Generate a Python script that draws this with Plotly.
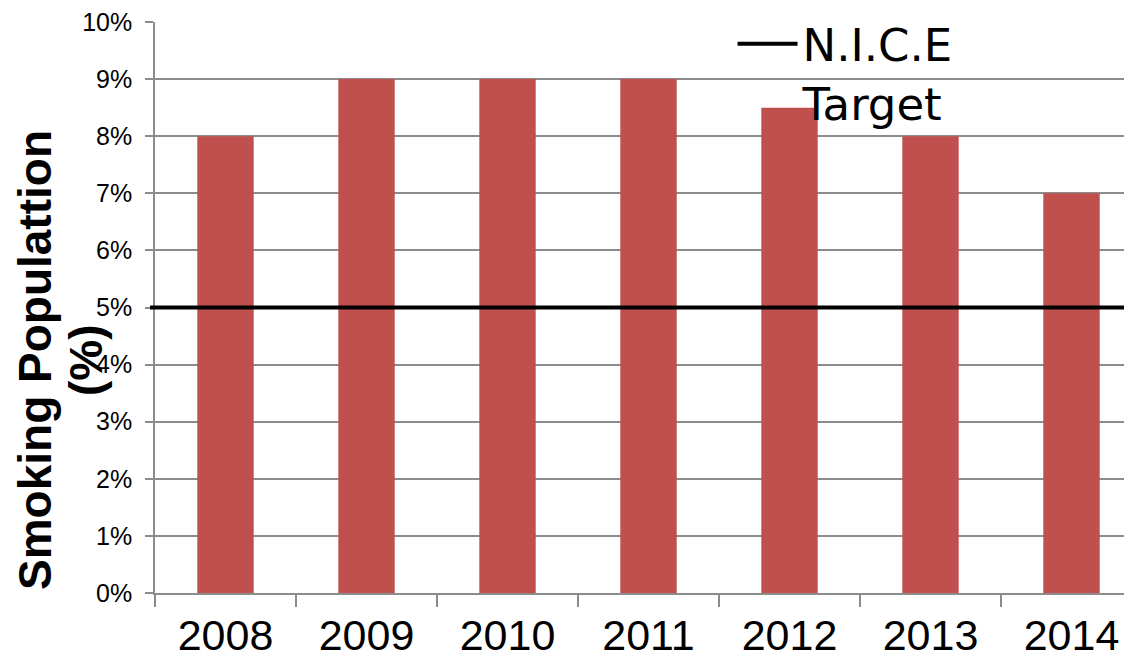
import plotly.graph_objects as go

years = ["2008", "2009", "2010", "2011", "2012", "2013", "2014"]
smoking_pct = [8, 9, 9, 9, 8.5, 8, 7]
nice_target = 5
y_ticks = list(range(0, 11))
y_tick_labels = [f"{v}%" for v in y_ticks]
y_title_lines = ["Smoking Populattion", "(%)"]

# page body has an 8px default margin; figure spans window 8..1132 x 8..661
W, H = 1124, 653
L, T, B = 147, 14, 68
plot_w = W - L
plot_h = H - T - B

fig = go.Figure()
fig.add_trace(go.Bar(
    x=years, y=smoking_pct,
    marker=dict(color="#C0504D", line=dict(width=0)),
    showlegend=False,
))

fig.add_shape(
    type="line", xref="paper", yref="y",
    x0=-5 / plot_w, x1=1, y0=nice_target, y1=nice_target,
    line=dict(color="black", width=4),
    showlegend=True, name="N.I.C.E<br>Target",
)

fig.update_layout(
    width=W, height=H,
    margin=dict(l=L, r=0, t=T, b=B, autoexpand=False),
    plot_bgcolor="white", paper_bgcolor="white",
    bargap=0.6,
    font=dict(family="Liberation Sans, Arial", color="black"),
    legend=dict(
        x=0.585 + 6 / plot_w, y=1.0 + 14 / plot_h, xanchor="left", yanchor="top",
        font=dict(family="DejaVu Sans", size=45, color="black"),
        bgcolor="rgba(0,0,0,0)", valign="top", itemwidth=60,
    ),
)

fig.update_xaxes(
    range=[-0.5, -0.5 + plot_w / 141],
    showgrid=False, showline=True, linecolor="#8c8c8c", linewidth=1.5,
    ticks="outside", tickson="boundaries", ticklen=12, tickcolor="#8c8c8c", tickwidth=1.5,
    tickfont=dict(size=43, family="Liberation Sans, Arial"),
    ticklabelstandoff=4,
)
fig.update_yaxes(
    range=[0, 10], tickvals=y_ticks, ticktext=y_tick_labels,
    showgrid=True, gridcolor="#8c8c8c", gridwidth=1.5,
    showline=True, linecolor="#8c8c8c", linewidth=1.5,
    ticks="outside", ticklen=8, tickcolor="#8c8c8c", tickwidth=1.5,
    tickfont=dict(size=25, family="Liberation Sans, Arial"),
    ticklabelstandoff=8, ticklabeloverflow="allow",
    zeroline=False,
)

title_font = dict(family="Liberation Sans, Arial", size=46, color="black", weight="bold")
for line_text, cx in zip(y_title_lines, [27, 78]):
    fig.add_annotation(
        text=line_text, textangle=-90,
        xref="paper", yref="paper", x=(cx - L) / plot_w, y=(585 - 352) / plot_h,
        xanchor="center", yanchor="middle", showarrow=False,
        font=title_font,
    )

fig.write_html("out.html")
